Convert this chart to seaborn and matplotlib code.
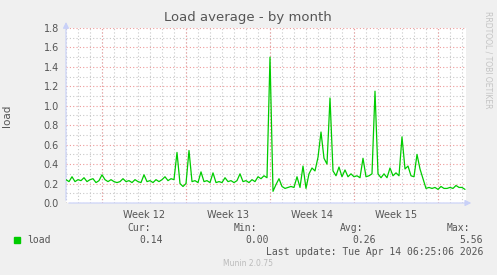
import numpy as np
import pandas as pd
import matplotlib
matplotlib.use("Agg")
import matplotlib.pyplot as plt
import seaborn as sns
from matplotlib.ticker import MultipleLocator, FixedLocator

# ---- data (load average, 6-hour samples) ----
load_values = [
    0.24, 0.22, 0.27, 0.22, 0.24, 0.23, 0.26, 0.22, 0.24, 0.25,
    0.21, 0.23, 0.29, 0.24, 0.22, 0.24, 0.22, 0.21, 0.22, 0.25,
    0.22, 0.23, 0.21, 0.24, 0.22, 0.21, 0.29, 0.22, 0.23, 0.21,
    0.24, 0.22, 0.24, 0.27, 0.23, 0.25, 0.24, 0.52, 0.20, 0.17,
    0.20, 0.54, 0.22, 0.23, 0.21, 0.32, 0.22, 0.23, 0.21, 0.31,
    0.21, 0.22, 0.21, 0.26, 0.22, 0.23, 0.21, 0.23, 0.30, 0.22,
    0.23, 0.21, 0.24, 0.22, 0.27, 0.25, 0.28, 0.26, 1.50, 0.12,
    0.19, 0.25, 0.17, 0.15, 0.16, 0.17, 0.16, 0.27, 0.16, 0.38,
    0.15, 0.30, 0.36, 0.33, 0.47, 0.73, 0.46, 0.40, 1.08, 0.33,
    0.28, 0.37, 0.27, 0.34, 0.27, 0.30, 0.27, 0.28, 0.26, 0.46,
    0.27, 0.28, 0.30, 1.15, 0.30, 0.26, 0.30, 0.26, 0.36, 0.28,
    0.31, 0.28, 0.68, 0.35, 0.38, 0.28, 0.27, 0.50, 0.35, 0.25,
    0.15, 0.16, 0.15, 0.16, 0.14, 0.17, 0.15, 0.15, 0.16, 0.15,
    0.18, 0.16, 0.16, 0.14,
]
sample_step_days = 0.25
week_labels = ["Week 12", "Week 13", "Week 14", "Week 15"]
week_starts = [3, 10, 17, 24, 31]   # days from left edge
y_ticks = [0.0, 0.2, 0.4, 0.6, 0.8, 1.0, 1.2, 1.4, 1.6, 1.8]
legend_name = "load"
stat_names = ["Cur:", "Min:", "Avg:", "Max:"]
stat_values = ["0.14", "0.00", "0.26", "5.56"]
title = "Load average - by month"
last_update = "Last update: Tue Apr 14 06:25:06 2026"

df = pd.DataFrame({
    "day": np.arange(len(load_values)) * sample_step_days,
    "load": load_values,
})

# ---- style ----
sns.set_style("white")
plt.rcParams["font.family"] = ["DejaVu Sans"]
BACK = "#F0F0F0"
FONT = "#555555"
AXIS = "#C8D0F8"
GREEN = "#00CC00"
GRID = "#C8C8C8"
MGRID = "#EE9A9A"

W, H = 497, 275
fig = plt.figure(figsize=(W / 100, H / 100), dpi=100, facecolor=BACK)
ax = fig.add_axes([66 / W, (H - 203) / H, 400 / W, 175 / H])
ax.set_facecolor("white")

sns.lineplot(data=df, x="day", y="load", ax=ax, color=GREEN, linewidth=0.9, zorder=5)

ax.set_xlim(0, 400 / 12)
ax.set_ylim(0, 1.8)

# grids
ax.xaxis.set_minor_locator(MultipleLocator(1))
ax.yaxis.set_major_locator(FixedLocator(y_ticks))
ax.yaxis.set_minor_locator(MultipleLocator(0.1))
dot = (0, (1, 2))
ax.grid(which="minor", axis="both", color=GRID, linestyle=dot, linewidth=0.8)
ax.grid(which="major", axis="y", color=MGRID, linestyle=dot, linewidth=0.8)
for ws in week_starts:
    ax.axvline(ws, color=MGRID, linestyle=dot, linewidth=0.8, zorder=1)

label_pos = [w + 3.5 for w in week_starts[:len(week_labels)]]
ax.set_xticks(label_pos)
ax.set_xticklabels(week_labels)
ax.set_yticklabels([f"{v:.1f}" for v in y_ticks])
ax.tick_params(axis="x", which="major", length=0, pad=5, labelsize=7, colors=FONT)
ax.tick_params(axis="y", which="major", length=2, pad=3, labelsize=7, colors=FONT, color="#AAAAAA")
ax.tick_params(which="minor", length=1.5, color="#BBBBBB")
ax.set_xlabel("")
ax.set_ylabel("load", fontsize=7.5, color=FONT)
ax.yaxis.set_label_coords(-0.135, 0.5)

for s in ax.spines.values():
    s.set_visible(False)

# axes with arrows
ax.annotate("", xy=(1.02, 0), xytext=(0, 0), xycoords="axes fraction",
            arrowprops=dict(arrowstyle="-|>", color=AXIS, lw=0.8, mutation_scale=9),
            annotation_clip=False)
ax.annotate("", xy=(0, 1.05), xytext=(0, 0), xycoords="axes fraction",
            arrowprops=dict(arrowstyle="-|>", color=AXIS, lw=0.8, mutation_scale=9),
            annotation_clip=False)

# title
fig.text(248 / W, 1 - 18 / H, title, ha="center", va="center", fontsize=9.5, color=FONT)
fig.text(488 / W, 1 - 60 / H, "RRDTOOL / TOBI OETIKER", rotation=270, ha="center",
         va="center", fontsize=5.5, color="#C4C4C4")

# legend
mono = "DejaVu Sans Mono"
fig.patches.append(plt.Rectangle((14 / W, 1 - 243 / H), 6 / W, 6 / H,
                                 transform=fig.transFigure, color=GREEN, figure=fig))
fig.text(27 / W, 1 - 240 / H, legend_name, ha="left", va="center", fontsize=7,
         family=mono, color=FONT)
name_right = [151, 257, 363, 470]
val_right = [163, 269, 376, 483]
for n, v, xr, xv in zip(stat_names, stat_values, name_right, val_right):
    fig.text(xr / W, 1 - 228 / H, n, ha="right", va="center", fontsize=7, family=mono, color=FONT)
    fig.text(xv / W, 1 - 240 / H, v, ha="right", va="center", fontsize=7, family=mono, color=FONT)
fig.text(483 / W, 1 - 252 / H, last_update, ha="right", va="center", fontsize=7,
         family=mono, color=FONT)
fig.text(248 / W, 1 - 264 / H, "Munin 2.0.75", ha="center", va="center", fontsize=5.5,
         color="#BBBBBB")

fig.savefig("out.png", dpi=100, facecolor=BACK)
